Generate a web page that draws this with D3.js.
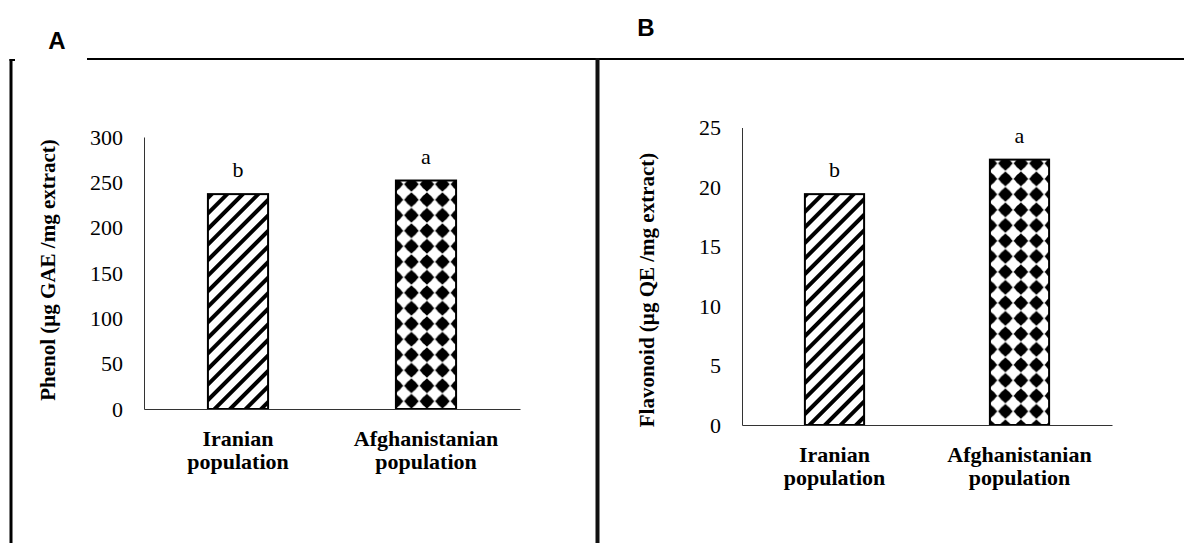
<!DOCTYPE html>
<html>
<head>
<meta charset="utf-8">
<script src="https://cdn.jsdelivr.net/npm/d3@7"></script>
<style>
  html, body { margin: 0; padding: 0; background: #fff; }
  svg { display: block; }
</style>
</head>
<body>
<svg id="chart" width="1184" height="543"></svg>
<script>
// ---- data ----
const categories = ["Iranian population", "Afghanistanian population"];
const phenolValues = [237, 252];
const phenolLetters = ["b", "a"];
const phenolTicks = [0, 50, 100, 150, 200, 250, 300];
const flavonoidValues = [19.4, 22.3];
const flavonoidLetters = ["b", "a"];
const flavonoidTicks = [0, 5, 10, 15, 20, 25];
const panelLabels = ["A", "B"];
const yTitles = ["Phenol (µg GAE /mg extract)", "Flavonoid (µg QE /mg extract)"];
const fillPatterns = ["stripes", "diamonds"];

const svg = d3.select("#chart");
const serif = "'Liberation Serif', 'Times New Roman', serif";
const sans = "'Liberation Sans', Arial, sans-serif";

// ---- patterns ----
const defs = svg.append("defs");
function stripePattern(id, ox, oy) {
  const p = defs.append("pattern").attr("id", id)
    .attr("patternUnits", "userSpaceOnUse")
    .attr("width", 11).attr("height", 11)
    .attr("x", ox).attr("y", oy)
    .attr("patternTransform", "rotate(45)");
  p.append("rect").attr("width", 11).attr("height", 11).attr("fill", "#fff");
  p.append("rect").attr("x", 0).attr("y", 0).attr("width", 4).attr("height", 11).attr("fill", "#000");
}
function diamondPattern(id, ox, oy) {
  const s = 15.5, h = s / 2;
  const p = defs.append("pattern").attr("id", id)
    .attr("patternUnits", "userSpaceOnUse")
    .attr("width", s).attr("height", s)
    .attr("x", ox).attr("y", oy);
  p.append("rect").attr("width", s).attr("height", s).attr("fill", "#fff");
  p.append("circle").attr("cx", h).attr("cy", h).attr("r", 5.6).attr("fill", "#000");
  p.append("path").attr("d", `M${h},${h-7.4} L${h+7.4},${h} L${h},${h+7.4} L${h-7.4},${h} Z`).attr("fill", "#000");
}

// ---- frame ----
const frame = svg.append("g").attr("stroke", "#000").attr("fill", "none");
frame.append("line").attr("x1", 87).attr("x2", 1184).attr("y1", 59).attr("y2", 59).attr("stroke-width", 2);
frame.append("line").attr("x1", 11).attr("x2", 11).attr("y1", 59).attr("y2", 543).attr("stroke-width", 3);
frame.append("line").attr("x1", 9.5).attr("x2", 15).attr("y1", 60).attr("y2", 60).attr("stroke-width", 2);
frame.append("line").attr("x1", 597.5).attr("x2", 597.5).attr("y1", 58).attr("y2", 543).attr("stroke-width", 4).attr("stroke", "#111");

svg.append("text").attr("x", 57).attr("y", 49).attr("text-anchor", "middle")
  .attr("font-family", sans).attr("font-weight", "bold")
  .attr("font-size", 24).text(panelLabels[0]);
svg.append("text").attr("x", 646).attr("y", 36).attr("text-anchor", "middle")
  .attr("font-family", sans).attr("font-weight", "bold")
  .attr("font-size", 24).text(panelLabels[1]);

// ---- panel drawing ----
function drawPanel(cfg) {
  const g = svg.append("g");
  const x = d3.scaleBand().domain(categories).range([cfg.x0, cfg.x1])
    .paddingInner(0.68).paddingOuter(0.34);
  const y = d3.scaleLinear().domain([0, cfg.ticks[cfg.ticks.length - 1]]).range([cfg.yb, cfg.yt]);

  categories.forEach((c, i) => {
    const id = cfg.key + i;
    if (fillPatterns[i] === "stripes") stripePattern(id, x(c), y(cfg.values[i]));
    else diamondPattern(id, x(c) - 7.75, y(cfg.values[i]) - 4);
  });

  // y axis
  const yAxis = d3.axisLeft(y).tickValues(cfg.ticks).tickSize(0).tickPadding(21).tickFormat(d3.format("d"));
  const ya = g.append("g").attr("transform", `translate(${cfg.x0},0)`).call(yAxis);
  ya.select(".domain").attr("stroke", "#333").attr("stroke-width", 1);
  ya.selectAll("text").attr("font-family", serif).attr("font-size", 22).attr("fill", "#000");

  // bars
  g.selectAll("rect.bar").data(cfg.values).join("rect")
    .attr("class", "bar")
    .attr("x", (d, i) => x(categories[i]))
    .attr("y", d => y(d))
    .attr("width", x.bandwidth())
    .attr("height", d => y(0) - y(d))
    .attr("fill", (d, i) => `url(#${cfg.key + i})`)
    .attr("stroke", "#000").attr("stroke-width", 2);

  // x axis
  const xAxis = d3.axisBottom(x).tickSize(0).tickFormat("");
  const xa = g.append("g").attr("transform", `translate(0,${cfg.yb})`).call(xAxis);
  xa.select(".domain").attr("stroke", "#333").attr("stroke-width", 1.2);

  // category labels
  categories.forEach(c => {
    const words = c.split(" ");
    const t = g.append("text").attr("text-anchor", "middle")
      .attr("font-family", serif).attr("font-weight", "bold").attr("font-size", 22);
    words.forEach((w, k) => {
      t.append("tspan").attr("x", x(c) + x.bandwidth() / 2).attr("y", cfg.yb + 37 + k * 23).text(w);
    });
  });

  // letters
  g.selectAll("text.sig").data(cfg.values).join("text")
    .attr("class", "sig")
    .attr("x", (d, i) => x(categories[i]) + x.bandwidth() / 2)
    .attr("y", d => y(d) - 17)
    .attr("text-anchor", "middle")
    .attr("font-family", serif).attr("font-size", 22)
    .text((d, i) => cfg.letters[i]);

  // y title
  g.append("text")
    .attr("transform", `translate(${cfg.titleX},${cfg.titleY}) rotate(-90)`)
    .attr("text-anchor", "middle").attr("dominant-baseline", "central")
    .attr("font-family", serif).attr("font-weight", "bold").attr("font-size", 21)
    .text(cfg.title);
}

drawPanel({ key: "pA", x0: 144, x1: 520, yt: 137, yb: 409, values: phenolValues, ticks: phenolTicks,
  letters: phenolLetters, title: yTitles[0], titleX: 48, titleY: 270 });
drawPanel({ key: "pB", x0: 742, x1: 1112, yt: 127.5, yb: 425, values: flavonoidValues, ticks: flavonoidTicks,
  letters: flavonoidLetters, title: yTitles[1], titleX: 647, titleY: 290 });
</script>
</body>
</html>
